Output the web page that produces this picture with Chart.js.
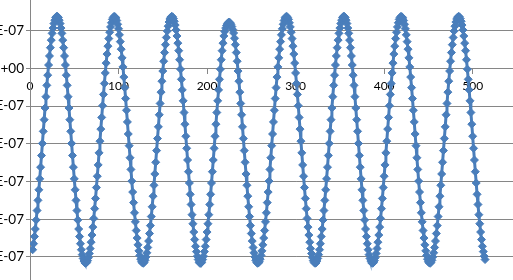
<!DOCTYPE html>
<html>
<head>
<meta charset="utf-8">
<script src="https://cdn.jsdelivr.net/npm/chart.js@4/dist/chart.umd.min.js"></script>
<style>
  html, body { margin: 0; padding: 0; background: #fff; }
  #wrap { position: relative; width: 513px; height: 280px; overflow: hidden; background: #fff; }
  #c { position: absolute; left: -60px; top: -20px; }
</style>
</head>
<body>
<div id="wrap"><canvas id="c" width="640" height="330"></canvas></div>
<script>
// Sample index of the first point (one point per unit after it)
const xStart = 3;
// Signal values, in units of 1E-07
const signal = [
-4.81,-4.65,-4.46,-4.26,-4.02,-3.77,-3.50,-3.22,-2.93,-2.62,-2.31,-1.99,-1.67,-1.36,-1.05,-0.75,-0.45,-0.18,0.09,0.33,0.55,0.75,0.93,1.07,1.19,1.28,1.35,1.38,
1.38,1.35,1.28,1.19,1.07,0.93,0.75,0.55,0.33,0.09,-0.18,-0.45,-0.75,-1.05,-1.36,-1.67,-1.99,-2.31,-2.62,-2.93,-3.22,-3.50,-3.77,-4.02,-4.26,-4.46,-4.65,-4.81,-4.94,-5.04,-5.11,-5.16,
-5.17,-5.15,-5.10,-5.02,-4.91,-4.78,-4.61,-4.42,-4.21,-3.98,-3.72,-3.45,-3.16,-2.86,-2.56,-2.24,-1.93,-1.61,-1.30,-0.99,-0.69,-0.40,-0.12,0.14,0.38,0.59,0.79,0.96,1.10,1.21,1.30,1.35,1.38,
1.37,1.34,1.27,1.17,1.05,0.89,0.71,0.51,0.28,0.04,-0.23,-0.51,-0.80,-1.11,-1.42,-1.74,-2.05,-2.37,-2.68,-2.99,-3.28,-3.56,-3.83,-4.07,-4.30,-4.50,-4.68,-4.84,-4.96,-5.06,-5.13,-5.16,
-5.17,-5.14,-5.09,-5.00,-4.89,-4.75,-4.58,-4.38,-4.17,-3.93,-3.67,-3.39,-3.10,-2.80,-2.49,-2.18,-1.86,-1.55,-1.23,-0.93,-0.63,-0.34,-0.07,0.19,0.42,0.63,0.82,0.99,1.12,1.23,1.31,1.36,1.38,
1.37,1.32,1.25,1.15,1.02,0.86,0.67,0.47,0.23,-0.02,-0.29,-0.57,-0.86,-1.17,-1.48,-1.80,-2.12,-2.43,-2.74,-3.04,-3.34,-3.61,-3.88,-4.12,-4.34,-4.54,-4.72,-4.86,-4.98,-5.07,-5.14,-5.17,
-5.17,-5.14,-5.07,-4.98,-4.86,-4.72,-4.54,-4.34,-4.12,-3.88,-3.61,-3.34,-3.04,-2.74,-2.43,-2.12,-1.80,-1.48,-1.17,-0.86,-0.57,-0.29,-0.02,0.23,0.47,0.67,0.86,0.98,1.07,1.14,1.19,1.22,
1.23,1.21,1.17,1.11,1.03,0.94,0.80,0.63,0.42,0.19,-0.07,-0.34,-0.63,-0.93,-1.23,-1.55,-1.86,-2.18,-2.49,-2.80,-3.10,-3.39,-3.67,-3.93,-4.17,-4.38,-4.58,-4.75,-4.89,-5.00,-5.09,-5.14,-5.17,
-5.16,-5.13,-5.06,-4.96,-4.84,-4.68,-4.50,-4.30,-4.07,-3.83,-3.56,-3.28,-2.99,-2.68,-2.37,-2.05,-1.74,-1.42,-1.11,-0.80,-0.51,-0.23,0.04,0.28,0.51,0.71,0.89,1.05,1.17,1.27,1.34,1.37,
1.38,1.35,1.30,1.21,1.10,0.96,0.79,0.59,0.38,0.14,-0.12,-0.40,-0.69,-0.99,-1.30,-1.61,-1.93,-2.24,-2.56,-2.86,-3.16,-3.45,-3.72,-3.98,-4.21,-4.42,-4.61,-4.78,-4.91,-5.02,-5.10,-5.15,-5.17,
-5.16,-5.11,-5.04,
-4.94,-4.81,-4.65,-4.46,-4.26,-4.02,-3.77,-3.50,-3.22,-2.93,-2.62,-2.31,-1.99,-1.67,-1.36,-1.05,-0.75,-0.45,-0.18,0.09,0.33,0.55,0.75,0.93,1.07,1.19,1.28,1.35,1.38,
1.38,1.35,1.28,1.19,1.07,0.93,0.75,0.55,0.33,0.09,-0.18,-0.45,-0.75,-1.05,-1.36,-1.67,-1.99,-2.31,-2.62,-2.93,-3.22,-3.50,-3.77,-4.02,-4.26,-4.46,-4.65,-4.81,-4.94,-5.04,-5.11,-5.16,
-5.17,-5.15,-5.10,-5.02,-4.91,-4.78,-4.61,-4.42,-4.21,-3.98,-3.72,-3.45,-3.16,-2.86,-2.56,-2.24,-1.93,-1.61,-1.30,-0.99,-0.69,-0.40,-0.12,0.14,0.38,0.59,0.79,0.96,1.10,1.21,1.30,1.35,1.38,
1.37,1.34,1.27,1.17,1.05,0.89,0.71,0.51,0.28,0.04,-0.23,-0.51,-0.80,-1.11,-1.42,-1.74,-2.05,-2.37,-2.68,-2.99,-3.28,-3.56,-3.83,-4.07,-4.30,-4.50,-4.68,-4.84,-4.96,-5.06,-5.13,-5.16,
-5.17,-5.14,-5.09,-5.00,-4.89,-4.75,-4.58,-4.38,-4.17,-3.93,-3.67,-3.39,-3.10,-2.80,-2.49,-2.18,-1.86,-1.55,-1.23,-0.93,-0.63,-0.34,-0.07,0.19,0.42,0.63,0.82,0.99,1.12,1.23,1.31,1.36,1.38,
1.37,1.32,1.25,1.15,1.02,0.86,0.67,0.47,0.23,-0.02,-0.29,-0.57,-0.86,-1.17,-1.48,-1.80,-2.12,-2.43,-2.74,-3.04,-3.34,-3.61,-3.88,-4.12,-4.34,-4.54,-4.72,-4.86,-4.98,-5.07
];
// Axis ticks
const xTicks = [0, 100, 200, 300, 400, 500, 600];
const yTicks = [2, 1, 0, -1, -2, -3, -4, -5, -6];

const points = signal.map((v, i) => ({ x: xStart + i, y: v }));
const lineColor = '#4A7EBB';
const gridColor = '#868686';

function yLabel(v) {
  const n = Math.round(v);
  if (n === 0) return '0.E+00';
  return n + '.E-07';
}

new Chart(document.getElementById('c'), {
  type: 'scatter',
  data: {
    datasets: [{
      data: points,
      showLine: true,
      borderColor: lineColor,
      backgroundColor: lineColor,
      borderWidth: 3,
      tension: 0,
      pointStyle: 'rectRot',
      pointRadius: 4,
      pointBorderWidth: 1,
      pointBorderColor: lineColor,
      pointBackgroundColor: lineColor
    }]
  },
  options: {
    responsive: false,
    animation: false,
    events: [],
    layout: { padding: { left: 0, top: 13, right: 18.8, bottom: 15.4 } },
    plugins: { legend: { display: false }, tooltip: { enabled: false } },
    scales: {
      x: {
        type: 'linear',
        position: { y: 0 },
        min: xTicks[0],
        max: xTicks[xTicks.length - 1],
        afterBuildTicks: (s) => { s.ticks = xTicks.map(v => ({ value: v })); },
        ticks: { font: { family: 'Lato', size: 12 }, color: '#000', padding: 6, maxRotation: 0, autoSkip: false },
        grid: { drawOnChartArea: false, drawTicks: true, tickLength: 5, color: gridColor },
        border: { color: gridColor, width: 1 }
      },
      y: {
        type: 'linear',
        position: 'left',
        min: yTicks[yTicks.length - 1],
        max: yTicks[0],
        afterBuildTicks: (s) => { s.ticks = yTicks.map(v => ({ value: v })); },
        afterFit: (s) => { s.width = 90; },
        ticks: { font: { family: 'Lato', size: 13.5 }, color: '#000', padding: 2, callback: yLabel },
        grid: { color: gridColor, lineWidth: 1, tickLength: 4 },
        border: { color: gridColor, width: 1 }
      }
    }
  }
});
</script>
</body>
</html>
